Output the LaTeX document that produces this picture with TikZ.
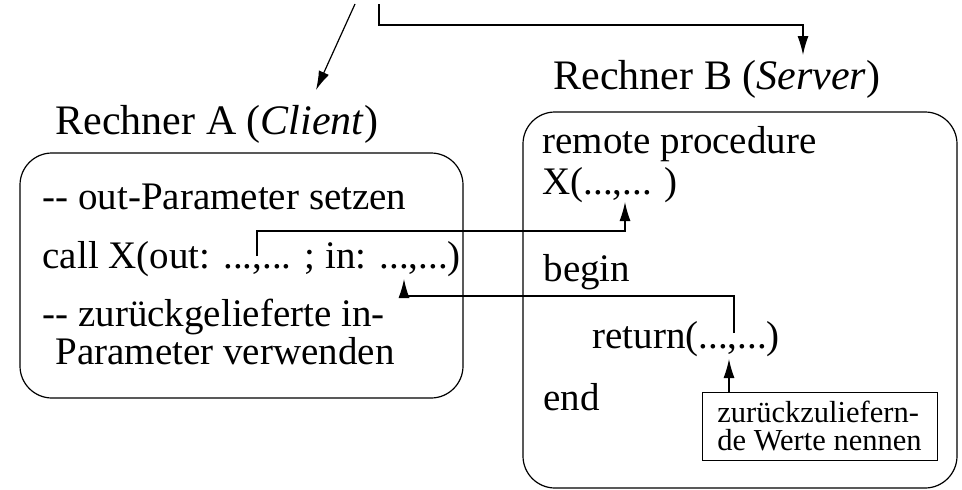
\documentclass[tikz,border=0pt]{standalone}
\usepackage{fontspec}
\setmainfont{Liberation Serif}[Ligatures=TeXOff]
\usetikzlibrary{arrows.meta}
\begin{document}
\begin{tikzpicture}[x=1pt,y=-1pt,
  line width=1.2pt,
  arr/.style={-{Latex[length=19pt,width=11pt]}},
  txt/.style={anchor=base west, inner sep=0pt, font=\fontsize{39}{44}\selectfont},
  ttl/.style={anchor=base west, inner sep=0pt, font=\fontsize{42}{48}\selectfont},
  frame/.style={draw, rounded corners=32pt, inner sep=0pt},
  notebox/.style={draw, line width=1pt, align=left, inner sep=0pt, font=\fontsize{30.5}{28.5}\selectfont}]
\useasboundingbox (0,0) rectangle (962,490);

% frames
\node[frame, minimum width=443pt, minimum height=245pt] (boxA) at (241.5,275.5) {};
\node[frame, minimum width=434pt, minimum height=376pt] (boxB) at (740,300) {};

% titles
\node[ttl] (titleA) at (55,134) {Rechner A (\textit{Client})};
\node[ttl] (titleB) at (553,89) {Rechner B (\textit{Server})};

% client text
\node[txt] (a1) at (42,209) {-- out-Parameter setzen};
\node[txt] (a2) at (42,268) {call X(out: ...,... ; in: ...,...)};
\node[txt] (a3) at (42,326) {-- zurückgelieferte in-};
\node[txt] (a4) at (55,364) {Parameter verwenden};

% server text
\node[txt] (b1) at (542,153) {remote procedure};
\node[txt] (b2) at (542,194) {X(...,... )};
\node[txt] (b3) at (543,281) {begin};
\node[txt] (b4) at (592,348) {return(...,...)};
\node[txt] (b5) at (543,410) {end};

% note box
\node[notebox, minimum width=235pt, minimum height=68pt] (note) at (819.5,426)
  {zurückzuliefern-\\de Werte nennen};

% coordinates
\coordinate (s1) at (355,4);
\coordinate (tA) at (316,90);
\coordinate (s2) at (379,4);
\coordinate (c2) at (379,25);
\coordinate (c3) at (803,25);
\coordinate (tB) at (803,55);
\coordinate (o1) at (257,256);
\coordinate (o2) at (257,231);
\coordinate (o3) at (625,231);
\coordinate (oT) at (625,202);
\coordinate (r1) at (734,333);
\coordinate (r2) at (734,296);
\coordinate (r3) at (404,296);
\coordinate (rT) at (404,279);
\coordinate (nT) at (729,359);

% connectors
\draw[arr] (s1) -- (tA);
\draw[arr] (s2) -- (c2) -- (c3) -- (tB);
\draw[arr] (o1) -- (o2) -- (o3) -- (oT);
\draw[arr] (r1) -- (r2) -- (r3) -- (rT);
\draw[arr] (note.north -| nT) -- (nT);
\end{tikzpicture}
\end{document}
